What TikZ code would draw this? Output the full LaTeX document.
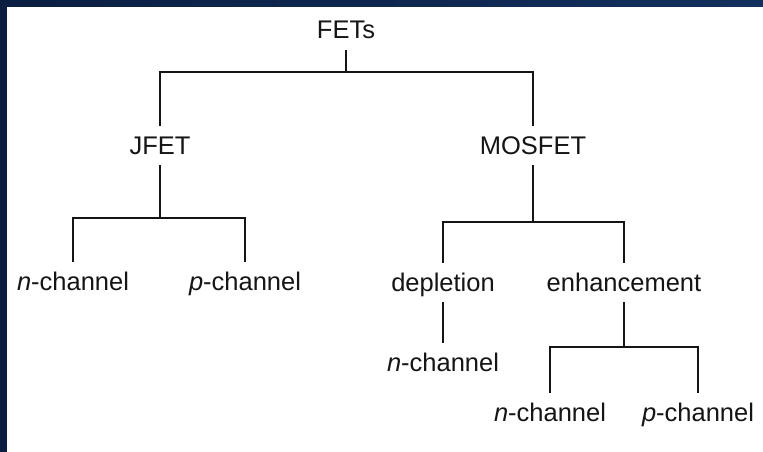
\documentclass[tikz,border=0pt]{standalone}
\usepackage{fontspec}
\setmainfont{Liberation Sans}
\definecolor{navyA}{HTML}{0B1E42}
\definecolor{navyB}{HTML}{12305E}
\definecolor{ink}{HTML}{151515}
\begin{document}
\begin{tikzpicture}[x=1pt,y=-1pt,
  lbl/.style={anchor=base,inner xsep=0pt,inner ysep=11pt,text height=17pt,text depth=0pt,
    font=\fontsize{25.5}{30}\selectfont,text=ink},
  tree/.style={draw=ink,line width=1.7pt}]
\useasboundingbox (0,0) rectangle (763,452);
\shade[left color=navyA,right color=navyB] (0,0) rectangle (763,452);
\fill[white] (7,7) rectangle (763,452);
% nodes
\node[lbl] (fets) at (346,39) {FETs};
\node[lbl] (jfet) at (160,154) {JFET};
\node[lbl] (mosfet) at (533,154) {MOSFET};
\node[lbl] (jn) at (73,290) {\textit{n}-channel};
\node[lbl] (jp) at (245,290) {\textit{p}-channel};
\node[lbl] (depl) at (443,291) {depletion};
\node[lbl] (enh) at (624,291) {enhancement};
\node[lbl] (dn) at (443,371) {\textit{n}-channel};
\node[lbl] (en) at (550,421) {\textit{n}-channel};
\node[lbl] (ep) at (698,421) {\textit{p}-channel};
% bar levels
\coordinate (b0) at (0,72);
\coordinate (b1) at (0,218);
\coordinate (b2) at (0,222);
\coordinate (b3) at (0,347);
% connectors
\draw[tree] (fets.south) -- (fets.south |- b0);
\draw[tree] (jfet.north) |- (mosfet.north |- b0) -- (mosfet.north);
\draw[tree] (jfet.south) -- (jfet.south |- b1);
\draw[tree] (jn.north) |- (jp.north |- b1) -- (jp.north);
\draw[tree] (mosfet.south) -- (mosfet.south |- b2);
\draw[tree] (depl.north) |- (enh.north |- b2) -- (enh.north);
\draw[tree] (depl.south) -- (dn.north);
\draw[tree] (enh.south) -- (enh.south |- b3);
\draw[tree] (en.north) |- (ep.north |- b3) -- (ep.north);
\end{tikzpicture}
\end{document}
